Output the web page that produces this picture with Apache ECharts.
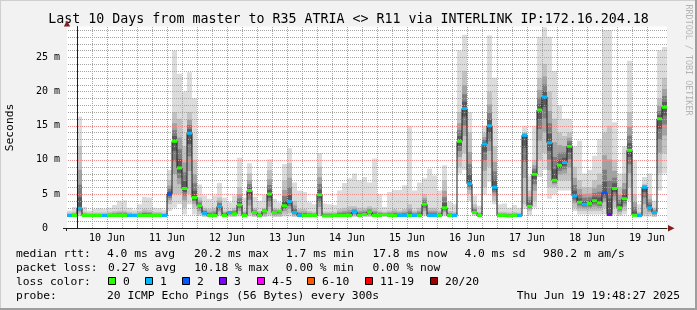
<!DOCTYPE html>
<html><head><meta charset="utf-8">
<script src="https://cdn.jsdelivr.net/npm/echarts@6/dist/echarts.min.js"></script>
<style>html,body{margin:0;padding:0;background:#f2f2f2}#c{width:697px;height:310px}</style>
</head><body><div id="c"></div>
<script>
// ---- data (2-hour columns, first column starts 4 h before 10 Jun 00:00) ----
const firstColumnHour = -4;   // hours relative to 10 Jun 00:00
const stepHours = 2;
const dayLabels = ['10 Jun','11 Jun','12 Jun','13 Jun','14 Jun','15 Jun','16 Jun','17 Jun','18 Jun','19 Jun'];
const yTickLabels = [0, 5, 10, 15, 20, 25];

// median rtt (ms)
const median = [
 1.85,1.85,2.9,1.85,1.85,1.85,1.85,1.85,1.85,1.85,
 1.85,1.85,1.85,1.85,1.85,1.85,1.85,1.85,1.85,1.85,
 5.0,12.7,8.8,5.8,13.9,4.5,3.3,2.2,1.85,1.85,
 3.2,1.85,2.3,2.1,3.4,1.85,5.5,2.3,1.85,2.5,
 5.0,2.3,2.5,3.3,3.9,2.3,1.85,1.85,1.85,1.85,
 4.9,1.8,1.8,1.85,1.85,1.85,1.85,2.4,1.85,2.0,
 2.4,1.85,1.85,2.0,1.85,1.85,1.85,1.85,1.85,1.85,
 1.85,3.5,1.85,1.85,1.85,3.0,1.85,1.85,12.7,17.5,
 6.5,2.3,1.85,12.3,15.0,6.0,1.85,1.85,1.8,1.85,
 1.85,13.6,3.2,7.9,17.3,19.2,12.5,7.0,9.2,9.6,
 12.0,4.7,3.8,3.5,3.6,4.0,3.7,5.2,2.0,5.8,
 3.0,4.3,11.4,1.9,1.85,6.0,3.0,2.3,16.0,17.7];
// loss class index (0 = "0", 1 = "1", 2 = "2", 3 = "3", ...)
const lossClass = [
 1,0,1,0,0,0,0,1,0,0,
 0,0,1,1,0,0,0,0,0,1,
 2,0,0,0,1,0,0,1,0,0,
 1,0,1,0,0,0,0,0,0,0,
 0,0,0,0,1,1,1,0,0,0,
 0,0,0,0,0,0,0,1,0,0,
 0,0,0,0,0,0,1,1,0,1,
 0,0,1,1,0,0,0,1,0,1,
 1,0,0,1,1,1,0,0,0,0,
 1,1,0,0,0,1,1,0,0,1,
 0,1,0,1,0,0,0,2,3,0,
 0,0,0,0,1,1,1,1,0,0];
// smoke: lowest ping, lower dense edge, upper dense edge, highest ping (ms)
const smokeLo = [
 1.65,1.65,1.7,1.65,1.65,1.65,1.65,1.65,1.65,1.65,
 1.65,1.65,1.65,1.65,1.65,1.65,1.65,1.65,1.65,1.65,
 2.5,3.0,3.5,2.0,3.5,2.0,1.8,1.65,1.65,1.65,
 1.7,1.65,1.65,1.65,1.7,1.65,1.7,1.65,1.65,1.65,
 1.7,1.65,1.65,1.7,1.7,1.65,1.65,1.65,1.65,1.65,
 1.7,1.65,1.65,1.65,1.65,1.65,1.65,1.65,1.65,1.65,
 1.65,1.65,1.65,1.65,1.65,1.65,1.65,1.65,1.65,1.65,
 1.65,1.7,1.65,1.65,1.65,1.7,1.65,1.65,8.0,8.5,
 4.0,1.8,1.65,5.0,6.8,3.5,1.65,1.65,1.65,1.65,
 1.65,2.8,1.9,3.0,7.5,8.5,4.3,5.0,5.5,5.5,
 5.5,2.5,2.0,2.0,2.0,2.0,2.0,2.0,1.9,2.0,
 1.8,2.0,4.0,1.7,1.65,1.7,1.7,1.65,5.5,8.0];
const smokeDn = [
 1.7,1.7,2.0,1.7,1.7,1.7,1.7,1.7,1.7,1.7,
 1.7,1.7,1.7,1.7,1.7,1.7,1.7,1.7,1.7,1.7,
 3.5,5.0,5.0,3.0,5.0,3.0,2.0,1.7,1.7,1.7,
 2.0,1.7,1.7,1.7,2.0,1.7,2.0,1.7,1.7,1.7,
 2.0,1.7,1.7,2.0,2.2,1.7,1.7,1.7,1.7,1.7,
 2.0,1.7,1.7,1.7,1.7,1.7,1.7,1.7,1.7,1.7,
 1.7,1.7,1.7,1.7,1.7,1.7,1.7,1.7,1.7,1.7,
 1.7,2.0,1.7,1.7,1.7,2.0,1.7,1.7,9.0,11.0,
 5.0,2.0,1.7,6.0,9.0,4.0,1.7,1.7,1.7,1.7,
 1.7,3.5,2.5,4.0,10.0,11.0,6.0,6.0,7.0,7.0,
 7.0,3.0,2.5,2.5,2.5,2.5,2.5,3.0,1.9,3.0,
 2.0,2.5,6.0,1.8,1.7,2.0,2.0,1.7,8.0,11.0];
const smokeUp = [
 2.3,2.4,12,2.4,2.3,2.3,2.3,2.3,2.4,2.5,
 2.6,2.6,2.4,2.3,2.5,2.8,2.7,2.4,2.4,2.3,
 7.0,17,16,12,17,10,4.5,3.0,2.8,3.0,
 4.5,2.6,2.6,3.0,6.0,2.6,8.0,3.0,2.5,3.0,
 8.5,3.0,2.6,7.0,9.5,4.0,2.8,2.8,2.5,2.4,
 9.0,2.4,2.4,2.4,2.8,3.0,3.2,3.2,3.0,3.0,
 3.2,3.0,2.6,2.4,2.6,2.8,2.6,2.8,3.5,2.6,
 3.0,5.0,3.0,3.0,2.6,7.0,2.5,2.4,17,23,
 14,3.5,2.4,14,20,12,2.4,2.4,2.3,2.4,
 2.3,14,5.5,10,22,24,20,16,14,13.5,
 14,9,7,6,6,7,8,14,15,10,
 6,8,17,5,2.4,6.5,5,3,19,22];
const smokeHi = [
 2.6,3.1,16.3,3.1,2.6,2.8,2.9,2.8,3.0,3.4,
 4.0,4.1,3.0,2.7,3.5,4.6,4.5,3.0,2.9,2.7,
 8.5,26,22.6,20,22.8,19,6.4,4.8,4.3,4.8,
 6.6,4.5,3.8,4.8,10.3,4.5,9.5,4.6,4.0,4.9,
 10.1,4.3,3.8,9.4,11.7,6.7,5.5,5.3,3.8,3.5,
 11.0,3.6,3.5,3.4,5.5,6.6,7.3,8.0,7.0,7.5,
 6.7,10.2,5.0,3.1,5.3,5.6,5.6,6.3,15.0,5.5,
 6.7,7.3,8.7,7.7,5.5,9.2,3.9,3.5,26,28.3,
 17,4.8,3.3,15,28.2,22,3.5,3.6,3.0,3.4,
 3.0,15,7.7,15,28,29.4,28,23,18,16,
 16,12,12.8,8,8.5,10.6,13,29,29,15.5,
 8,12,24.5,10,3.5,7.5,8,4,26,26.5];

const lossLabels = ['0','1','2','3','4-5','6-10','11-19','20/20'];
const lossColors = ['#26ff00','#00b8ff','#0059ff','#7f00ff','#ff00ff','#ff5a00','#ff0000','#a00000'];

const statsRtt = ['median rtt:','4.0 ms avg','20.2 ms max','1.7 ms min','17.8 ms now','4.0 ms sd','980.2 m am/s'];
const statsLoss = ['packet loss:','0.27 % avg','10.18 % max','0.00 % min','0.00 % now'];
const probeText = ['probe:','20 ICMP Echo Pings (56 Bytes) every 300s','Thu Jun 19 19:48:27 2025'];
const titleText = 'Last 10 Days from master to R35 ATRIA <> R11 via INTERLINK IP:172.16.204.18';

// ---- build ----
const MONO = '"DejaVu Sans Mono", monospace';
const MINOR_COLOR = '#a4a4a4';
const MAJOR_COLOR = '#e88e8e';

const smokeData = median.map((m, i) => [firstColumnHour + i*stepHours, smokeLo[i], smokeDn[i], m, smokeUp[i], smokeHi[i]]);
const lineData = median.map((m, i) => [firstColumnHour + i*stepHours + stepHours/2, m]);
const markData = median.map((m, i) => [firstColumnHour + i*stepHours, m, lossClass[i]]);

// grid lines: vertical every 6 h (red at midnight), horizontal every 1 ms (red every 5 ms)
const gridData = [];
for (let h = 0; h <= 232; h += 6) gridData.push([h, 0, 0, h % 24 === 0 ? 1 : 0]);
for (let v = 1; v <= 29; v++) gridData.push([0, v, 1, v % 5 === 0 ? 1 : 0]);

const fr = [1, 0.62, 0.38, 0.18];
const frCol = ['#c2c2c2', '#a2a2a2', '#7e7e7e', '#5a5a5a'];

function renderSmoke(params, api) {
  const t = api.value(0), lo = api.value(1), dn = api.value(2), md = api.value(3), up = api.value(4), hi = api.value(5);
  const x0 = Math.round(api.coord([t, 0])[0]);
  const x1 = Math.round(api.coord([t + stepHours, 0])[0]);
  const Y = v => api.coord([t, v])[1];
  const ch = [];
  ch.push({type: 'rect', shape: {x: x0, y: Y(hi), width: x1 - x0, height: Y(lo) - Y(hi)}, style: {fill: '#dcdcdc'}});
  for (let j = 0; j < fr.length; j++) {
    const a = md - fr[j]*(md - dn), b = md + fr[j]*(up - md);
    ch.push({type: 'rect', shape: {x: x0, y: Y(b), width: x1 - x0, height: Y(a) - Y(b)}, style: {fill: frCol[j]}});
  }
  return {type: 'group', children: ch};
}
function renderMarks(params, api) {
  const t = api.value(0), md = api.value(1), lc = api.value(2);
  const x0 = Math.round(api.coord([t, 0])[0]);
  const x1 = Math.round(api.coord([t + stepHours, 0])[0]);
  const y = api.coord([t, md])[1];
  return {type: 'rect', shape: {x: x0, y: y - 1.5, width: x1 - x0, height: 3}, style: {fill: lossColors[lc]}};
}
// dotted grid line drawn as a row of 1x1 filled squares
function renderGrid(params, api) {
  const h = api.value(0), v = api.value(1), horiz = api.value(2), major = api.value(3);
  let d = '';
  if (!horiz) {
    const x = Math.round(api.coord([h, 0])[0]);
    const top = Math.round(api.coord([h, 29.5])[1]), bot = Math.round(api.coord([h, 0])[1]);
    for (let y = top; y < bot; y += 2) d += 'M' + x + ' ' + y + 'L' + (x + 1) + ' ' + y + 'L' + (x + 1) + ' ' + (y + 1) + 'L' + x + ' ' + (y + 1) + 'Z';
  } else {
    const y = Math.round(api.coord([0, v])[1]);
    const left = Math.round(api.coord([-4, v])[0]) + 1, right = Math.round(api.coord([236, v])[0]);
    for (let x = left; x < right; x += 2) d += 'M' + x + ' ' + y + 'L' + (x + 1) + ' ' + y + 'L' + (x + 1) + ' ' + (y + 1) + 'L' + x + ' ' + (y + 1) + 'Z';
  }
  return {type: 'path', shape: {pathData: d}, style: {fill: major ? MAJOR_COLOR : MINOR_COLOR, stroke: null}};
}

const graphics = [];
graphics.push({type: 'rect', shape: {x: 0, y: 0, width: 697, height: 1}, style: {fill: '#cfcfcf'}, silent: true});
graphics.push({type: 'rect', shape: {x: 0, y: 0, width: 1, height: 310}, style: {fill: '#cfcfcf'}, silent: true});
graphics.push({type: 'rect', shape: {x: 695, y: 0, width: 2, height: 310}, style: {fill: '#9e9e9e'}, silent: true});
graphics.push({type: 'rect', shape: {x: 0, y: 308, width: 697, height: 2}, style: {fill: '#9e9e9e'}, silent: true});
graphics.push({type: 'text', x: 348.5, y: 19.5, style: {text: titleText, font: '13.3px ' + MONO, fill: '#000', align: 'center', verticalAlign: 'middle'}});
graphics.push({type: 'text', x: 688.5, y: 60, rotation: -Math.PI/2, style: {text: 'RRDTOOL / TOBI OETIKER', font: '8.4px ' + MONO, fill: '#b4b4b4', align: 'center', verticalAlign: 'middle'}});
graphics.push({type: 'text', x: 10.5, y: 127.5, rotation: Math.PI/2, style: {text: 'Seconds', font: '11.3px ' + MONO, fill: '#000', align: 'center', verticalAlign: 'middle'}});
// axis overshoot stubs and arrow heads
graphics.push({type: 'rect', shape: {x: 63, y: 228, width: 4, height: 1}, style: {fill: '#1f1f1f'}, z: 10});
graphics.push({type: 'rect', shape: {x: 66, y: 228, width: 1, height: 3}, style: {fill: '#1f1f1f'}, z: 10});
graphics.push({type: 'polygon', shape: {points: [[668, 225], [674.5, 228.3], [668, 231.6]]}, style: {fill: '#7f1f1f'}, z: 10});
graphics.push({type: 'polygon', shape: {points: [[63.8, 26.5], [67, 20.5], [70.2, 26.5]]}, style: {fill: '#7f1f1f'}, z: 10});
const LF = '11.3px ' + MONO;
const rttX = [16, 107, 194, 286, 372.4, 464.4, 543.1];
statsRtt.forEach((s, i) => graphics.push({type: 'text', x: rttX[i], y: 254.5, style: {text: s, font: LF, fill: '#000', verticalAlign: 'middle'}}));
const lossX = [16, 108, 194.2, 285.8, 372.4];
statsLoss.forEach((s, i) => graphics.push({type: 'text', x: lossX[i], y: 268.5, style: {text: s, font: LF, fill: '#000', verticalAlign: 'middle'}}));
graphics.push({type: 'text', x: 16, y: 282.3, style: {text: 'loss color:', font: LF, fill: '#000', verticalAlign: 'middle'}});
const boxX = [108.5, 145.5, 182.5, 219.5, 257.5, 307.5, 365.5, 430.5];
lossLabels.forEach((s, i) => {
  graphics.push({type: 'rect', shape: {x: boxX[i], y: 277.5, width: 7, height: 7}, style: {fill: lossColors[i], stroke: '#000', lineWidth: 1}});
  graphics.push({type: 'text', x: boxX[i] + 14.5, y: 282.3, style: {text: s, font: LF, fill: '#000', verticalAlign: 'middle'}});
});
graphics.push({type: 'text', x: 16, y: 296, style: {text: probeText[0], font: LF, fill: '#000', verticalAlign: 'middle'}});
graphics.push({type: 'text', x: 107, y: 296, style: {text: probeText[1], font: LF, fill: '#000', verticalAlign: 'middle'}});
graphics.push({type: 'text', x: 680, y: 296, style: {text: probeText[2], font: LF, fill: '#000', align: 'right', verticalAlign: 'middle'}});

const chart = echarts.init(document.getElementById('c'), null, {renderer: 'canvas'});
chart.setOption({
  animation: false,
  backgroundColor: '#f2f2f2',
  grid: {left: 67, right: 30, top: 26.5, bottom: 81.8, show: true, backgroundColor: '#ffffff', borderWidth: 0},
  xAxis: {
    type: 'value', min: -4, max: 236, interval: 2, z: 8,
    axisLine: {show: true, lineStyle: {color: '#1f1f1f', width: 1}},
    axisTick: {show: false},
    axisLabel: {
      margin: 5, color: '#000', fontFamily: MONO, fontSize: 10,
      formatter: v => { const h = ((v % 24) + 24) % 24; if (h === 12) { return dayLabels[Math.floor(v / 24)] || ''; } return ''; }
    },
    splitLine: {show: false}
  },
  yAxis: {
    type: 'value', min: 0, max: 29.5, interval: 1, z: 8,
    axisLine: {show: true, lineStyle: {color: '#1f1f1f', width: 1}},
    axisTick: {show: false},
    axisLabel: {
      margin: 7, color: '#000', fontFamily: MONO, fontSize: 10,
      formatter: v => yTickLabels.indexOf(v) >= 0 ? (v === 0 ? '0  ' : v + ' m') : ''
    },
    splitLine: {show: false}
  },
  series: [
    {type: 'custom', name: 'smoke', z: 1, renderItem: renderSmoke, data: smokeData, encode: {x: 0, y: 3}, clip: true, silent: true},
    {type: 'custom', name: 'grid', z: 3, renderItem: renderGrid, data: gridData, encode: {x: 0, y: 1}, silent: true},
    {type: 'line', name: 'median', z: 5, data: lineData, step: 'middle', showSymbol: false, lineStyle: {color: '#202020', width: 1}, silent: true},
    {type: 'custom', name: 'loss', z: 6, renderItem: renderMarks, data: markData, encode: {x: 0, y: 1}, clip: true, silent: true}
  ],
  graphic: graphics
});
</script>
</body></html>
